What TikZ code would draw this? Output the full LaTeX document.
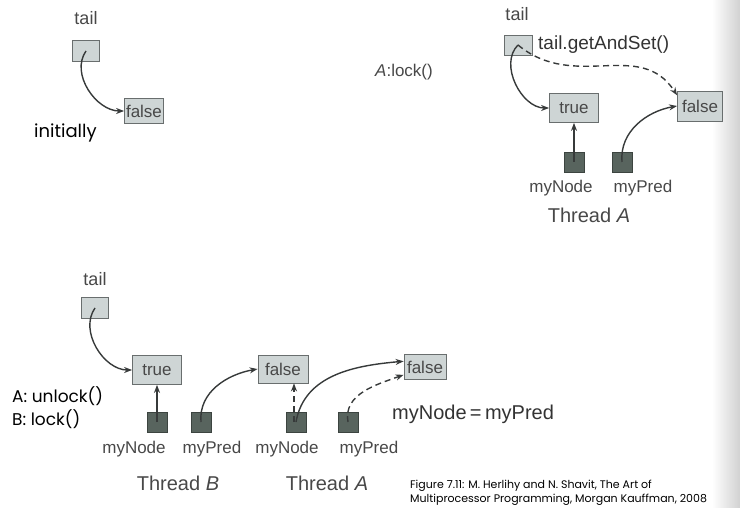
\documentclass[tikz,border=0pt]{standalone}
\usepackage{fontspec}
\setmainfont{Liberation Sans}
\newfontfamily\comicfont{Poppins}
\usetikzlibrary{arrows.meta}
\definecolor{cellfill}{RGB}{206,213,213}
\definecolor{celldraw}{RGB}{105,110,110}
\definecolor{ptrfill}{RGB}{88,100,94}
\definecolor{ptrdraw}{RGB}{60,68,64}
\definecolor{inkgray}{RGB}{72,72,72}
\definecolor{linegray}{RGB}{55,58,58}
\begin{document}
\begin{tikzpicture}[x=1pt,y=-1pt]
                \tikzstyle{every node}+=[inner sep=0pt, text=inkgray]
                \tikzstyle{cell}=[draw=celldraw, fill=cellfill, line width=0.8pt, font=\fontsize{17}{17}\selectfont]
                \tikzstyle{ptr}=[draw=ptrdraw, fill=ptrfill, line width=0.8pt, minimum width=20pt, minimum height=20pt]
                \tikzstyle{lbl}=[font=\fontsize{17}{17}\selectfont]
                \tikzstyle{thr}=[font=\fontsize{20}{20}\selectfont]
                \tikzstyle{note}=[font=\comicfont\fontsize{17}{17}\selectfont, text=black, anchor=west]
                \tikzstyle{link}=[draw=linegray, line width=1.4pt, -{Stealth[length=8pt,width=6pt]}]
                \tikzstyle{weak}=[dash pattern=on 6pt off 4pt]
                \useasboundingbox (0,0) rectangle (740,508);
                \shade [left color=white, right color=black!18] (712,0) rectangle (740,508);
                \node [lbl, font=\fontsize{18}{18}\selectfont] (tailA) at (86,18) {tail};
                \node [cell, minimum width=39pt, minimum height=25pt] (fA) at (144,111) {false};
                \node [cell, minimum width=27pt, minimum height=21pt] (tA) at (86,51) {};
                \node [note, font=\comicfont\fontsize{18}{18}\selectfont] (initN) at (34,133) {initially};
                \draw [link] (tA.center) to[out=235,in=180] (fA.west);
                \node [lbl] (opA) at (404,72) {\textit{A}:lock()};
                \node [lbl, font=\fontsize{18}{18}\selectfont] (tailB) at (517,14) {tail};
                \node [cell, minimum width=28pt, minimum height=20pt] (tB) at (518,45) {};
                \node [lbl, font=\fontsize{19}{19}\selectfont, anchor=west, text=black!80] (gasB) at (538,45) {tail.getAndSet()};
                \node [cell, minimum width=49pt, minimum height=29pt] (tB1) at (574,108) {true};
                \node [cell, minimum width=45pt, minimum height=30pt] (fB) at (700,106) {false};
                \node [ptr] (nB) at (574,162) {};
                \node [ptr] (pB) at (622,162) {};
                \node [lbl] (nBl) at (561,188) {myNode};
                \node [lbl] (pBl) at (643,188) {myPred};
                \node [thr] (thB) at (589,215) {Thread \textit{A}};
                \draw [link] (tB.center) to[out=225,in=180] (tB1.west);
                \draw [link, weak] (tB.center) .. controls (575,92) and (640,38) .. (fB.155);
                \draw [link] (nB.center) -- (tB1.south);
                \draw [link] (pB.center) to[out=95,in=190] (fB.west);
                \node [lbl, font=\fontsize{18}{18}\selectfont] (tailC) at (95,279) {tail};
                \node [cell, minimum width=27pt, minimum height=21pt] (tC) at (95,308) {};
                \node [cell, minimum width=49pt, minimum height=29pt] (tC1) at (157,370) {true};
                \node [cell, minimum width=50pt, minimum height=28pt] (fC1) at (283,369) {false};
                \node [cell, minimum width=42pt, minimum height=25pt] (fC2) at (425,367) {false};
                \node [note] (opC1) at (12,396) {A: unlock()};
                \node [note] (opC2) at (12,419) {B: lock()};
                \node [ptr] (nC1) at (157,422) {};
                \node [ptr] (pC1) at (201,422) {};
                \node [ptr] (nC2) at (296,422) {};
                \node [ptr] (pC2) at (348,422) {};
                \node [lbl] (nC1l) at (134,449) {myNode};
                \node [lbl] (pC1l) at (212,449) {myPred};
                \node [lbl] (nC2l) at (287,449) {myNode};
                \node [lbl] (pC2l) at (369,449) {myPred};
                \node [thr] (thC1) at (178,483) {Thread \textit{B}};
                \node [thr] (thC2) at (327,483) {Thread \textit{A}};
                \node [lbl, font=\fontsize{20}{20}\selectfont, anchor=west, text=black!80] (eqC) at (392,414) {myNode\,=\,myPred};
                \draw [link] (tC.center) to[out=235,in=180] (tC1.west);
                \draw [link] (nC1.center) -- (tC1.south);
                \draw [link] (pC1.center) to[out=95,in=190] (fC1.west);
                \draw [link, weak] ([xshift=-2pt]nC2.center) -- ([xshift=-2pt]nC2.center |- fC1.south);
                \draw [link] (nC2.center) to[out=80,in=185] (fC2.165);
                \draw [link, weak] (pC2.center) to[out=100,in=200] (fC2.200);
                \node [note, font=\comicfont\fontsize{11}{13.5}\selectfont, align=left, anchor=north west] (capC) at (410,480) {Figure 7.11: M. Herlihy and N. Shavit, The Art of\\Multiprocessor Programming, Morgan Kauffman, 2008};
                \end{tikzpicture}
\end{document}
